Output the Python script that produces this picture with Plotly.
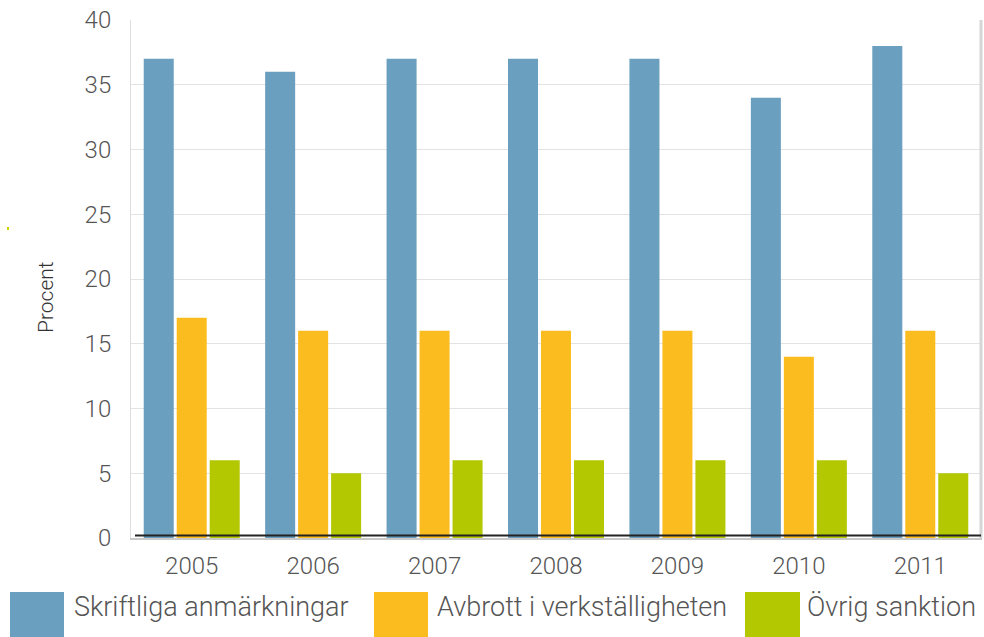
import plotly.graph_objects as go

years = ["2005", "2006", "2007", "2008", "2009", "2010", "2011"]
skriftliga = [37, 36, 37, 37, 37, 34, 38]
avbrott = [17, 16, 16, 16, 16, 14, 16]
ovrig = [6, 5, 6, 6, 6, 6, 5]
series_names = ["Skriftliga anmärkningar", "Avbrott i verkställigheten", "Övrig sanktion"]
colors = ["#6b9fbf", "#fbbc20", "#b3c800"]
y_ticks = [0, 5, 10, 15, 20, 25, 30, 35, 40]

W, H = 984, 637
L, R, T, B = 131, 3, 20, 99
PW, PH = W - L - R, H - T - B

def px_x(x):
    return (x - L) / PW

def px_y(y):
    return (H - B - y) / PH

FONT = "Roboto"
TXT = "#555555"

fig = go.Figure()
for name, vals, col in zip(series_names, [skriftliga, avbrott, ovrig], colors):
    fig.add_trace(go.Bar(x=years, y=vals, name=name, marker=dict(color=col, line=dict(width=0)),
                         showlegend=False))

shapes = []
annotations = []
# legend swatches and labels
leg = [(10, 64, 72), (374, 428, 435), (745, 800, 805)]
for (x0, x1, tx), name, col in zip(leg, series_names, colors):
    shapes.append(dict(type="rect", xref="paper", yref="paper", x0=px_x(x0), x1=px_x(x1),
                       y0=px_y(592), y1=px_y(646), fillcolor=col, line=dict(width=0)))
    annotations.append(dict(text=name, xref="paper", yref="paper", x=px_x(tx), y=px_y(607),
                            xanchor="left", yanchor="middle", showarrow=False,
                            font=dict(family=FONT, size=27, color=TXT, weight=300)))
# right border
shapes.append(dict(type="line", xref="paper", yref="paper", x0=1, x1=1, y0=0, y1=1,
                   line=dict(color="#d6d6d6", width=3)))
# black baseline
shapes.append(dict(type="line", xref="paper", yref="paper", x0=px_x(135), x1=1,
                   y0=px_y(535.5), y1=px_y(535.5), line=dict(color="#222222", width=2), layer="above"))
# tiny mark at left
shapes.append(dict(type="rect", xref="paper", yref="paper", x0=px_x(7), x1=px_x(9),
                   y0=px_y(230), y1=px_y(227), fillcolor="#c8d400", line=dict(width=0)))

annotations.append(dict(text="Procent", xref="paper", yref="paper", x=px_x(46), y=px_y(297),
                        xanchor="center", yanchor="middle", textangle=-90, showarrow=False,
                        font=dict(family=FONT, size=21, color="#333333", weight=300)))

fig.update_layout(
    width=W, height=H,
    margin=dict(l=L, r=R, t=T, b=B),
    paper_bgcolor="white", plot_bgcolor="white",
    barmode="group", bargap=0.185, bargroupgap=0.09,
    font=dict(family=FONT, color=TXT),
    xaxis=dict(showgrid=False, showline=True, linecolor="#c8c8c8", linewidth=2, mirror=False,
               tickfont=dict(family=FONT, size=24, color=TXT, weight=300), ticks="", ticklabelstandoff=5),
    yaxis=dict(range=[0, 40], tickvals=y_ticks, showgrid=True, gridcolor="#e3e3e3", gridwidth=1,
               zeroline=False, showline=True, linecolor="#dedede", linewidth=1, mirror=True,
               tickfont=dict(family=FONT, size=24, color=TXT, weight=300), ticks="", ticklabelstandoff=14),
    shapes=shapes, annotations=annotations,
)

fig.write_html("out.html", config={"displayModeBar": False},
               post_script="document.body.style.margin='0';document.body.style.overflow='hidden';")
